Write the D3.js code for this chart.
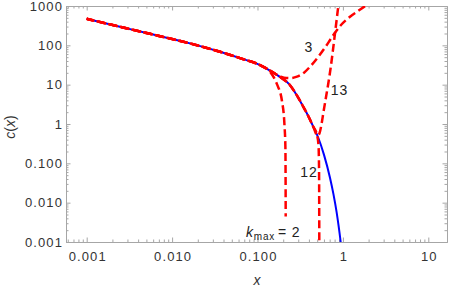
<!DOCTYPE html>
<html><head><meta charset="utf-8">
<script src="https://cdn.jsdelivr.net/npm/d3@7"></script>
<style>body{margin:0;background:#fff}svg{display:block}</style>
</head><body>
<script>
// ---- data ----
const xTickValues = [0.001, 0.01, 0.1, 1, 10];
const xTickLabels = ["0.001", "0.010", "0.100", "1", "10"];
const yTickValues = [0.001, 0.01, 0.1, 1, 10, 100, 1000];
const yTickLabels = ["0.001", "0.010", "0.100", "1", "10", "100", "1000"];

// exact solution (blue)
const exactX = [0.001, 0.00245, 0.00551, 0.0162, 0.0364, 0.0624, 0.107, 0.140, 0.183, 0.2404, 0.288, 0.341, 0.394, 0.450, 0.515, 0.601, 0.706, 0.776, 0.845, 0.942, 0.99];
const exactY = [472, 297, 196, 112, 68.5, 47.3, 31.4, 22.8, 15.8, 9.70, 5.40, 2.83, 1.57, 0.851, 0.447, 0.164, 0.0430, 0.0162, 0.00565, 0.001, 0.00040];

// truncated series, k_max = 2
const k2X = [0.001, 0.00245, 0.00551, 0.0162, 0.0364, 0.0624, 0.107, 0.140, 0.169, 0.1936, 0.2070, 0.2122, 0.2133, 0.2139];
const k2Y = [472, 297, 196, 112, 68.5, 47.3, 31.4, 21.4, 10.3, 3.80, 0.929, 0.256, 0.0369, 0.00447];

// k_max = 3
const k3X = [0.001, 0.00245, 0.00551, 0.0162, 0.0364, 0.0624, 0.107, 0.140, 0.1738, 0.2043, 0.2403, 0.2900, 0.3504, 0.4231, 0.5114, 0.6171, 0.7657, 0.9502, 1.211, 1.502, 1.865, 2.441];
const k3Y = [472, 297, 196, 112, 68.5, 47.3, 31.4, 22.8, 17.16, 15.08, 14.64, 15.99, 20.2, 30.5, 50.2, 87.6, 177, 328, 534, 746, 1030, 1422];

// k_max = 12
const k12X = [0.001, 0.00245, 0.00551, 0.0162, 0.0364, 0.0624, 0.107, 0.140, 0.183, 0.2404, 0.288, 0.341, 0.394, 0.450, 0.4971, 0.5180, 0.5250, 0.5278, 0.5293];
const k12Y = [472, 297, 196, 112, 68.5, 47.3, 31.4, 22.8, 15.8, 9.70, 5.40, 2.83, 1.57, 0.851, 0.532, 0.2875, 0.0889, 0.0114, 0.00061];

// k_max = 13
const k13X = [0.001, 0.00245, 0.00551, 0.0162, 0.0364, 0.0624, 0.107, 0.140, 0.183, 0.2404, 0.288, 0.341, 0.394, 0.450, 0.5040, 0.5321, 0.5616, 0.5918, 0.6338, 0.6745, 0.7217, 0.7723, 0.8259, 0.8834, 0.9247];
const k13Y = [472, 297, 196, 112, 68.5, 47.3, 31.4, 22.8, 15.8, 9.70, 5.40, 2.83, 1.57, 0.851, 0.502, 0.581, 0.985, 1.99, 4.80, 10.7, 28.4, 90.2, 297, 1000, 2273];

// curve labels (text and anchor in data coordinates)
const labelText = ["3", "13", "12"];
const labelX = [0.401, 0.912, 0.401];
const labelY = [68.6, 5.40, 0.0448];
const kmaxLabelX = 0.3177;
const kmaxLabelY = 0.001324;

// ---- drawing ----
const W = 450, H = 287;
const L = 66, R = 447, T = 6, B = 242;
const FONT = "'Liberation Sans', Arial, sans-serif";
const svg = d3.select("body").append("svg").attr("width", W).attr("height", H)
  .style("font-family", FONT);

const x = d3.scaleLog().domain([Math.pow(10, -3.2424), Math.pow(10, 1.219)]).range([L, R]);
const y = d3.scaleLog().domain([0.001, 1000]).range([B, T]);

const xMinor = x.ticks().filter(v => !xTickValues.some(t => Math.abs(t - v) / t < 1e-9));
const yMinor = y.ticks().filter(v => !yTickValues.some(t => Math.abs(t - v) / t < 1e-9));

const frameColor = "#a6a6a6";
const textColor = "#333";
const major = 4.5, minor = 2.5;

function styleAxis(g) {
  g.selectAll("path.domain").attr("stroke", frameColor).attr("stroke-width", 1);
  g.selectAll(".tick line").attr("stroke", frameColor).attr("stroke-width", 1);
  g.selectAll(".tick text").attr("fill", textColor).style("font-size", "13px")
    .style("letter-spacing", "1.1px").style("font-family", FONT);
}

// bottom
svg.append("g").attr("transform", `translate(0,${B})`)
  .call(d3.axisBottom(x).tickValues(xMinor).tickFormat("").tickSizeInner(-minor).tickSizeOuter(0)).call(styleAxis);
svg.append("g").attr("transform", `translate(0,${B})`)
  .call(d3.axisBottom(x).tickValues(xTickValues).tickFormat((d, i) => xTickLabels[i]).tickSizeInner(-major).tickSizeOuter(0).tickPadding(9.5)).call(styleAxis)
  .selectAll(".tick text").attr("dx", "0.5px");
// top
svg.append("g").attr("transform", `translate(0,${T})`)
  .call(d3.axisTop(x).tickValues(xMinor).tickFormat("").tickSizeInner(-minor).tickSizeOuter(0)).call(styleAxis);
svg.append("g").attr("transform", `translate(0,${T})`)
  .call(d3.axisTop(x).tickValues(xTickValues).tickFormat("").tickSizeInner(-major).tickSizeOuter(0)).call(styleAxis);
// left
svg.append("g").attr("transform", `translate(${L},0)`)
  .call(d3.axisLeft(y).tickValues(yMinor).tickFormat("").tickSizeInner(-minor).tickSizeOuter(0)).call(styleAxis);
svg.append("g").attr("transform", `translate(${L},0)`)
  .call(d3.axisLeft(y).tickValues(yTickValues).tickFormat((d, i) => yTickLabels[i]).tickSizeInner(-major).tickSizeOuter(0).tickPadding(3)).call(styleAxis);
// right
svg.append("g").attr("transform", `translate(${R},0)`)
  .call(d3.axisRight(y).tickValues(yMinor).tickFormat("").tickSizeInner(-minor).tickSizeOuter(0)).call(styleAxis);
svg.append("g").attr("transform", `translate(${R},0)`)
  .call(d3.axisRight(y).tickValues(yTickValues).tickFormat("").tickSizeInner(-major).tickSizeOuter(0)).call(styleAxis);

// clip
svg.append("clipPath").attr("id", "plotclip").append("rect")
  .attr("x", L).attr("y", T).attr("width", R - L).attr("height", B - T);

const line = d3.line().x(d => x(d[0])).y(d => y(d[1])).curve(d3.curveMonotoneX);
const zipXY = (xs, ys) => xs.map((v, i) => [v, ys[i]]);

const plot = svg.append("g").attr("clip-path", "url(#plotclip)");
plot.append("path").attr("d", line(zipXY(exactX, exactY)))
  .attr("fill", "none").attr("stroke", "#0000ff").attr("stroke-width", 2);

const reds = [[k2X, k2Y, 0], [k3X, k3Y, 1], [k12X, k12Y, 2], [k13X, k13Y, 0.5]];
reds.forEach(([xs, ys, off]) => {
  plot.append("path").attr("d", line(zipXY(xs, ys)))
    .attr("fill", "none").attr("stroke", "#ff0000").attr("stroke-width", 2.5)
    .attr("stroke-dasharray", "8,4").attr("stroke-dashoffset", off);
});

// curve labels
labelText.forEach((t, i) => {
  svg.append("text").attr("x", x(labelX[i])).attr("y", y(labelY[i]))
    .attr("text-anchor", "middle").attr("fill", "#222").style("font-size", "14px")
    .style("letter-spacing", "1px").text(t);
});
const km = svg.append("text").attr("x", x(kmaxLabelX)).attr("y", y(kmaxLabelY))
  .attr("text-anchor", "end").attr("fill", "#222").style("font-size", "14px")
  .style("letter-spacing", "0.8px");
km.append("tspan").style("font-style", "italic").text("k");
km.append("tspan").attr("dy", 3).style("font-size", "10px").text("max");
km.append("tspan").attr("dy", -3).attr("dx", 3).text("= 2");

// axis labels
const xl = svg.append("text").attr("x", (L + R) / 2 + 0.5).attr("y", 285)
  .attr("text-anchor", "middle").attr("fill", textColor).style("font-size", "14px");
xl.append("tspan").style("font-style", "italic").text("x");

const yl = svg.append("text").attr("transform", `translate(15,127) rotate(-90)`)
  .attr("text-anchor", "middle").attr("fill", textColor).style("font-size", "14px");
yl.append("tspan").style("font-style", "italic").text("c");
yl.append("tspan").text("(");
yl.append("tspan").style("font-style", "italic").text("x");
yl.append("tspan").text(")");
</script>
</body></html>
